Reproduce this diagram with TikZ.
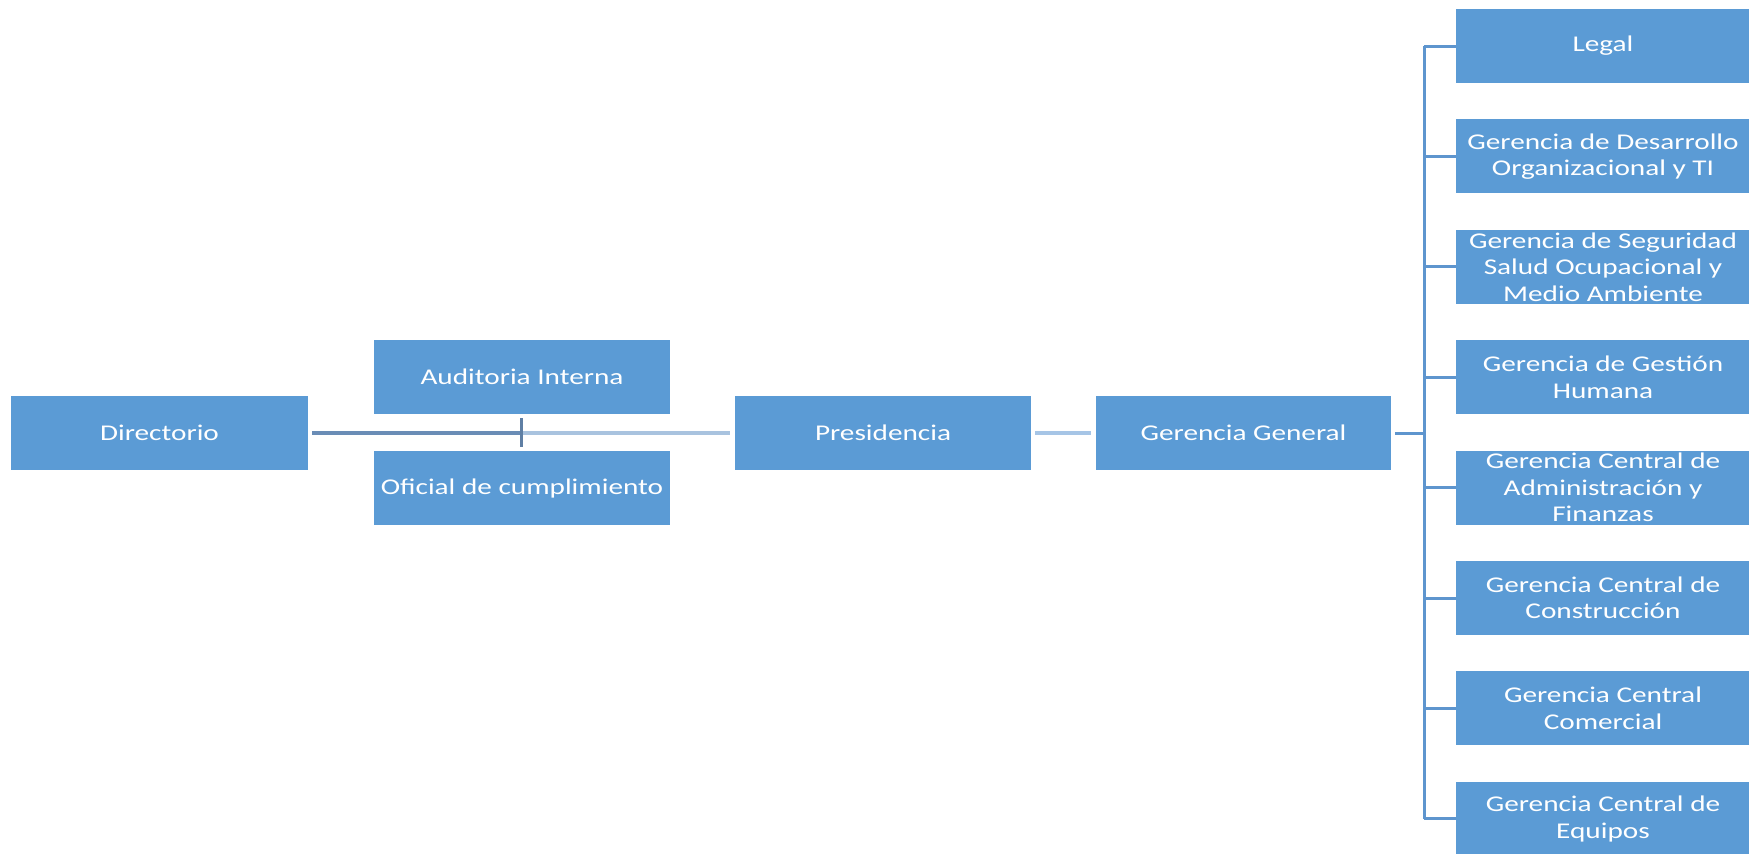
\documentclass[tikz,border=0pt]{standalone}
\usepackage{fontspec}
\setmainfont{Carlito}[FakeStretch=1.3]
\definecolor{boxblue}{HTML}{5B9BD5}
\definecolor{linkdark}{HTML}{6A8DB6}
\definecolor{linklight}{HTML}{A9C3DF}
\definecolor{linkpale}{HTML}{A6C5E6}
\definecolor{linkbus}{HTML}{5E95CE}

% org-chart box: name, centre x, centre y, width, height, text (text clipped to the box)
\newcommand\obox[6]{%
  \node[unitbox, minimum width=#4pt, minimum height=#5pt] (#1) at (#2,#3) {};
  \begin{scope}
    \clip (#1.south west) rectangle (#1.north east);
    \node[unittext] at (#1.center) {#6};
  \end{scope}}

\begin{document}
\begin{tikzpicture}[x=1pt, y=-1pt,
  unitbox/.style={rectangle, fill=boxblue, draw=none, inner sep=0pt},
  unittext/.style={text=white, align=center, inner sep=0pt,
    font=\fontsize{22.5}{26.5}\selectfont},
  darklink/.style={draw=linkdark, line width=3.6pt},
  lightlink/.style={draw=linklight, line width=3.6pt},
  palelink/.style={draw=linkpale, line width=4.2pt},
  buslink/.style={draw=linkbus, line width=3pt}]
\useasboundingbox (0,0) rectangle (1749,854);

% left part of the chart
\obox{dir}{159.5}{433}{297}{74}{Directorio}
\obox{aud}{522}{377}{296}{74}{Auditoria Interna}
\obox{ofi}{522}{488}{296}{74}{Oficial de cumplimiento}
\obox{pres}{883}{433}{296}{74}{Presidencia}
\obox{gg}{1243.5}{433}{295}{74}{Gerencia General}

% units reporting to Gerencia General
\obox{legal}{1603}{46}{294}{74}{Legal}
\obox{gdo}{1603}{156.4}{294}{74}{Gerencia de Desarrollo\\Organizacional y TI}
\obox{gsso}{1603}{266.8}{294}{74}{Gerencia de Seguridad\\Salud Ocupacional y\\Medio Ambiente}
\obox{ggh}{1603}{377.2}{294}{74}{Gerencia de Gestión\\Humana}
\obox{gcaf}{1603}{487.6}{294}{74}{Gerencia Central de\\Administración y\\Finanzas}
\obox{gcc}{1603}{598}{294}{74}{Gerencia Central de\\Construcción}
\obox{gccom}{1603}{708.4}{294}{74}{Gerencia Central\\Comercial}
\obox{gce}{1603}{818.8}{294}{74}{Gerencia Central de\\Equipos}

% junction between the two staff units and the bus beside the units
\coordinate (mid) at (521,433);
\coordinate (bus) at (1424,433);

% connectors
\draw[darklink, shorten <=4pt] (dir.east) -- (mid);
\draw[lightlink, shorten >=5pt] (mid) -- (pres.west);
\draw[draw=linkdark!90!black, line width=3pt, shorten <=4pt, shorten >=4pt]
  (aud.south -| mid) -- (ofi.north -| mid);
\draw[palelink, shorten <=4pt, shorten >=5pt] (pres.east) -- (gg.west);
\draw[buslink, shorten <=4pt] (gg.east) -- (bus);
\draw[buslink] (bus |- legal.west) -- (bus |- gce.west);
\foreach \u in {legal,gdo,gsso,ggh,gcaf,gcc,gccom,gce}
  \draw[buslink] (bus |- \u.west) -- (\u.west);
\end{tikzpicture}
\end{document}
